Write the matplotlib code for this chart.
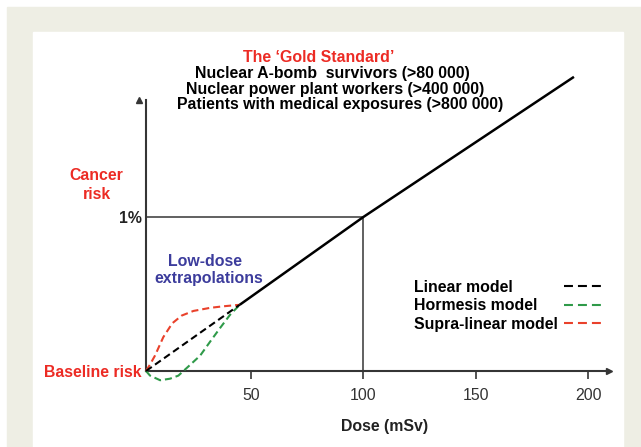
import matplotlib
matplotlib.use("Agg")
import matplotlib.pyplot as plt
from matplotlib.patches import Rectangle
from matplotlib.lines import Line2D

# ---------------- data ----------------
x_ticks = [50, 100, 150, 200]
x_tick_labels = ["50", "100", "150", "200"]
y_ticks = [0.0, 1.0]
y_tick_labels = ["Baseline risk", "1%"]

ref_dose = 100
ref_risk = 1.0

solid_dose = [45, 100, 193.7]
solid_risk = [0.43, 1.0, 1.91]

linear_dose = [3.3, 45]
linear_risk = [0.0, 0.43]

supra_dose = [3.3, 5.0, 7.3, 11.0, 15.0, 19.2, 24.4, 31.8, 37.6, 45]
supra_risk = [0.0, 0.04, 0.10, 0.22, 0.31, 0.36, 0.39, 0.41, 0.42, 0.43]

horm_dose = [3.3, 5.1, 9.6, 14.0, 17.7, 22.2, 27.4, 31.8, 36.3, 40.7, 45]
horm_risk = [0.0, -0.03, -0.06, -0.05, -0.03, 0.03, 0.10, 0.19, 0.28, 0.365, 0.43]

model_names = ["Linear model", "Hormesis model", "Supra-linear model"]

gold_title = "The \u2018Gold Standard\u2019"
gold_lines = ["Nuclear A-bomb  survivors (>80 000)",
              "Nuclear power plant workers (>400 000)",
              "Patients with medical exposures (>800 000)"]

# ---------------- style ----------------
W, H = 641, 447
RED = "#ec2b24"
BLUE = "#3c3c9c"
GREEN = "#2f9a49"
DRED = "#e9412b"
AX = "#353535"
BEIGE = "#eeeee4"
FS = 11.4
plt.rcParams["font.family"] = ["Liberation Sans", "DejaVu Sans"]

fig = plt.figure(figsize=(W / 100, H / 100), dpi=100)
fig.patch.set_facecolor("white")
fig.patches.append(Rectangle((7 / W, 0), 1 - 7 / W, (H - 7) / H,
                             transform=fig.transFigure, color=BEIGE, zorder=-10))
fig.patches.append(Rectangle((33 / W, 0), (623 - 33) / W, (H - 32) / H,
                             transform=fig.transFigure, color="white", zorder=-9))

def px(x, y):
    return x / W, 1 - y / H

ax = fig.add_axes([146 / W, (H - 371) / H, (609 - 146) / W, (371 - 100) / H])
ax.set_zorder(5)
ax.set_facecolor("none")
ax.set_xlim(3.3, (609 - 138.5) / 2.248)
ax.set_ylim(0, (371 - 100) / 154)

for s in ["top", "right"]:
    ax.spines[s].set_visible(False)
for s in ["left", "bottom"]:
    ax.spines[s].set_linewidth(1.5)
    ax.spines[s].set_color(AX)

# arrow heads
ax.plot(1, 0, ">", color=AX, ms=5, transform=ax.get_yaxis_transform(), clip_on=False)
ax.plot(0, 1, "^", color=AX, ms=5, transform=ax.get_xaxis_transform(), clip_on=False)

ax.set_xticks(x_ticks)
ax.set_xticklabels(x_tick_labels)
ax.tick_params(axis="x", direction="out", length=6, width=1.2, color=AX,
               labelsize=FS, labelcolor="#333333", pad=6.5)
ax.set_yticks(y_ticks)
ax.set_yticklabels(y_tick_labels)
ax.tick_params(axis="y", length=0, pad=3, labelsize=FS)
for lab in ax.get_yticklabels():
    lab.set_fontweight("bold")
ax.get_yticklabels()[0].set_color(RED)
ax.get_yticklabels()[1].set_color("#222222")

# reference lines at 1% / 100 mSv
ax.hlines(ref_risk, ax.get_xlim()[0], ref_dose, color=AX, lw=1.1, zorder=2)
ax.vlines(ref_dose, 0, ref_risk, color=AX, lw=1.1, zorder=2)

# lines
ax.plot(solid_dose, solid_risk, color="black", lw=1.8, solid_capstyle="butt",
        clip_on=False, zorder=4)
dash_kw = dict(lw=1.5, dashes=(3.4, 1.9), clip_on=False, zorder=3)
ax.plot(supra_dose, supra_risk, color=DRED, **dash_kw)
ax.plot(horm_dose, horm_risk, color=GREEN, **dash_kw)
ax.plot(linear_dose, linear_risk, color="black", **dash_kw)

# texts
dy = 1.5
fig.text(*px(318.5, 56 + dy), gold_title, color=RED, fontsize=FS, fontweight="bold",
         ha="center", va="center")
for (cx, cy), t in zip([(332, 72), (335, 88), (340, 103.5)], gold_lines):
    fig.text(*px(cx, cy + dy), t, color="black", fontsize=FS, fontweight="bold",
             ha="center", va="center")
fig.text(*px(96, 174 + dy), "Cancer", color=RED, fontsize=FS, fontweight="bold",
         ha="center", va="center")
fig.text(*px(97, 193 + dy), "risk", color=RED, fontsize=FS, fontweight="bold",
         ha="center", va="center")
fig.text(*px(205, 260 + dy), "Low-dose", color=BLUE, fontsize=FS, fontweight="bold",
         ha="center", va="center")
fig.text(*px(209, 277 + dy), "extrapolations", color=BLUE, fontsize=FS, fontweight="bold",
         ha="center", va="center")
fig.text(*px(385, 425 + dy), "Dose (mSv)", color="#222222", fontsize=FS, fontweight="bold",
         ha="center", va="center")

# legend: texts on the left, dash samples on the right
colors = ["black", GREEN, DRED]
text_handles = [Line2D([], [], lw=0) for _ in model_names]
leg1 = fig.legend(text_handles, model_names, loc="upper left",
                  bbox_to_anchor=px(414, 280), frameon=False, handlelength=0,
                  handletextpad=0, borderpad=0, borderaxespad=0, labelspacing=0.22,
                  prop=dict(size=FS, weight="bold"))
dash_handles = [Line2D([], [], color=c, lw=1.5, dashes=(4.3, 2.4)) for c in colors]
leg2 = fig.legend(dash_handles, ["", "", ""], loc="upper right",
                  bbox_to_anchor=px(603, 280), frameon=False, handlelength=2.45,
                  handletextpad=0, borderpad=0, borderaxespad=0, labelspacing=0.22,
                  prop=dict(size=FS, weight="bold"))

fig.savefig("out.png", dpi=100)
